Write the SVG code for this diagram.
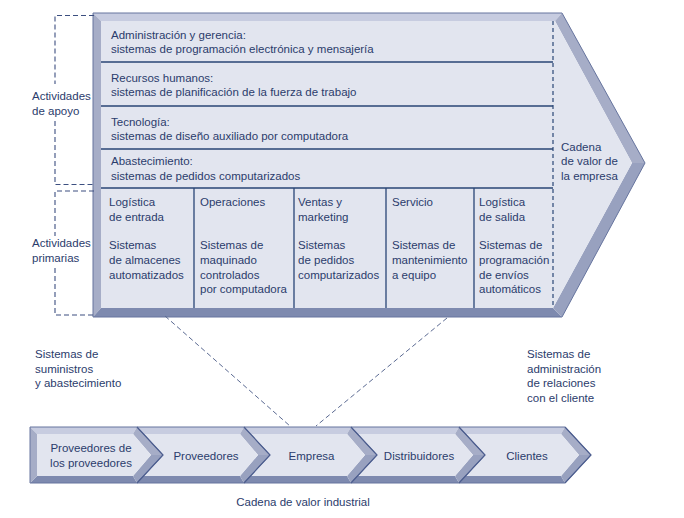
<svg xmlns="http://www.w3.org/2000/svg" width="684" height="518" viewBox="0 0 684 518">
<style>
text{font-family:"Liberation Sans",Arial,sans-serif;font-size:11.5px;fill:#2b3c6c}
.mid{text-anchor:middle}
.top{fill:#c7cce0}
.side{fill:#a6adc7}
.bot{fill:#7e8aaf}
.low{fill:#98a1bf}
.face{fill:#e2e5ef}
.edge{fill:none;stroke:#66749e;stroke-width:1}
.chev{fill:none;stroke:#4d5e8f;stroke-width:1.2}
.div{stroke:#2a4676;stroke-width:1.3;fill:none}
.dash{stroke:#2a4676;stroke-width:1.2;stroke-dasharray:4 3;fill:none}
.brk{stroke:#3c4f80;stroke-width:1.1;stroke-dasharray:5 3;fill:none}
.con{stroke:#5b6a92;stroke-width:1;stroke-dasharray:5 3;fill:none}
</style>

<g id="cadena-empresa">
<polygon class="top" points="93,13 562,13 555,21 101,21"/>
<polygon class="side" points="93,13 101,21 101,308 93,317"/>
<polygon class="bot" points="93,317 101,308 553,308 562,317"/>
<polygon class="side" points="562,13 645,163 632,163 555,21"/>
<polygon class="low" points="645,163 562,317 553,308 632,163"/>
<polygon class="face" points="101,21 555,21 632,163 553,308 101,308"/>
<polygon class="edge" points="93,13 562,13 645,163 562,317 93,317"/>
<path class="div" d="M101,62H553M101,106H553M101,149H553M101,188H553M194,188V308M294,188V308M386,188V308M474,188V308"/>
<line class="dash" x1="553" y1="21" x2="553" y2="308"/>
<text x="561" y="151">Cadena</text>
<text x="561" y="165">de valor de</text>
<text x="561" y="180">la empresa</text>
</g>

<g id="apoyo-admin">
<text x="111" y="38.5">Administración y gerencia:</text>
<text x="111" y="53">sistemas de programación electrónica y mensajería</text>
</g>
<g id="apoyo-rrhh">
<text x="111" y="81.5">Recursos humanos:</text>
<text x="111" y="96">sistemas de planificación de la fuerza de trabajo</text>
</g>
<g id="apoyo-tecnologia">
<text x="111" y="125.5">Tecnología:</text>
<text x="111" y="140">sistemas de diseño auxiliado por computadora</text>
</g>
<g id="apoyo-abastecimiento">
<text x="111" y="165">Abastecimiento:</text>
<text x="111" y="179.5">sistemas de pedidos computarizados</text>
</g>

<g id="prim-logistica-entrada">
<text x="109" y="206">Logística</text>
<text x="109" y="220.5">de entrada</text>
<text x="109" y="249">Sistemas</text>
<text x="109" y="264">de almacenes</text>
<text x="109" y="278.5">automatizados</text>
</g>
<g id="prim-operaciones">
<text x="200" y="206">Operaciones</text>
<text x="200" y="249">Sistemas de</text>
<text x="200" y="264">maquinado</text>
<text x="200" y="278.5">controlados</text>
<text x="200" y="293">por computadora</text>
</g>
<g id="prim-ventas">
<text x="298" y="206">Ventas y</text>
<text x="298" y="220.5">marketing</text>
<text x="298" y="249">Sistemas</text>
<text x="298" y="264">de pedidos</text>
<text x="298" y="278.5">computarizados</text>
</g>
<g id="prim-servicio">
<text x="392" y="206">Servicio</text>
<text x="392" y="249">Sistemas de</text>
<text x="392" y="264">mantenimiento</text>
<text x="392" y="278.5">a equipo</text>
</g>
<g id="prim-logistica-salida">
<text x="479" y="206">Logística</text>
<text x="479" y="220.5">de salida</text>
<text x="479" y="249">Sistemas de</text>
<text x="479" y="264">programación</text>
<text x="479" y="278.5">de envíos</text>
<text x="479" y="293">automáticos</text>
</g>

<g id="label-apoyo">
<path class="brk" d="M94,15.5H55V84M55,121V184.5H94"/>
<text x="32" y="100">Actividades</text>
<text x="32" y="115">de apoyo</text>
</g>
<g id="label-primarias">
<path class="brk" d="M94,191H55V236M55,268V315H94"/>
<text x="32" y="247">Actividades</text>
<text x="32" y="262">primarias</text>
</g>

<g id="connectors">
<line class="con" x1="165" y1="316" x2="290" y2="426"/>
<line class="con" x1="447" y1="318" x2="316" y2="426"/>
</g>

<g id="label-suministros">
<text x="35" y="358">Sistemas de</text>
<text x="35" y="372.5">suministros</text>
<text x="35" y="387">y abastecimiento</text>
</g>
<g id="label-clientes">
<text x="527" y="358">Sistemas de</text>
<text x="527" y="372.5">administración</text>
<text x="527" y="387">de relaciones</text>
<text x="527" y="401.5">con el cliente</text>
</g>

<g id="box-proveedores-proveedores">
<polygon class="top" points="30,427 137,427 133,434 37,434"/>
<polygon class="bot" points="30,483 137,483 133,476 37,476"/>
<polygon class="side" points="30,427 37,434 37,476 30,483"/>
<polygon class="side" points="137,427 163,455 151,455 133,434"/>
<polygon class="low" points="163,455 137,483 133,476 151,455"/>
<polygon class="face" points="37,434 133,434 151,455 133,476 37,476"/>
<polygon class="edge" points="30,427 137,427 163,455 137,483 30,483"/>
<text class="mid" x="91" y="452">Proveedores de</text>
<text class="mid" x="91" y="467">los proveedores</text>
</g>
<g id="box-proveedores">
<polygon class="top" points="137,427 244,427 240,434 143.5,434"/>
<polygon class="bot" points="137,483 244,483 240,476 143.5,476"/>
<polygon class="side" points="244,427 270,455 258,455 240,434"/>
<polygon class="low" points="270,455 244,483 240,476 258,455"/>
<polygon class="face" points="143.5,434 240,434 258,455 240,476 143.5,476 163,455"/>
<polygon class="edge" points="137,427 244,427 270,455 244,483 137,483 163,455"/>
<text class="mid" x="206" y="460">Proveedores</text>
</g>
<g id="box-empresa">
<polygon class="top" points="244,427 351,427 347,434 250.5,434"/>
<polygon class="bot" points="244,483 351,483 347,476 250.5,476"/>
<polygon class="side" points="351,427 377,455 365,455 347,434"/>
<polygon class="low" points="377,455 351,483 347,476 365,455"/>
<polygon class="face" points="250.5,434 347,434 365,455 347,476 250.5,476 270,455"/>
<polygon class="edge" points="244,427 351,427 377,455 351,483 244,483 270,455"/>
<text class="mid" x="311.5" y="460">Empresa</text>
</g>
<g id="box-distribuidores">
<polygon class="top" points="351,427 459,427 455,434 357.5,434"/>
<polygon class="bot" points="351,483 459,483 455,476 357.5,476"/>
<polygon class="side" points="459,427 485,455 473,455 455,434"/>
<polygon class="low" points="485,455 459,483 455,476 473,455"/>
<polygon class="face" points="357.5,434 455,434 473,455 455,476 357.5,476 377,455"/>
<polygon class="edge" points="351,427 459,427 485,455 459,483 351,483 377,455"/>
<text class="mid" x="419" y="460">Distribuidores</text>
</g>
<g id="box-clientes">
<polygon class="top" points="459,427 565,427 561,434 465.5,434"/>
<polygon class="bot" points="459,483 565,483 561,476 465.5,476"/>
<polygon class="side" points="565,427 591,455 579,455 561,434"/>
<polygon class="low" points="591,455 565,483 561,476 579,455"/>
<polygon class="face" points="465.5,434 561,434 579,455 561,476 465.5,476 485,455"/>
<polygon class="edge" points="459,427 565,427 591,455 565,483 459,483 485,455"/>
<text class="mid" x="527" y="460">Clientes</text>
</g>
<g id="chevron-edges">
<path class="chev" d="M137,427L163,455L137,483M244,427L270,455L244,483M351,427L377,455L351,483M459,427L485,455L459,483M565,427L591,455L565,483"/>
</g>
<g id="label-industrial">
<text class="mid" x="303" y="506">Cadena de valor industrial</text>
</g>
</svg>
